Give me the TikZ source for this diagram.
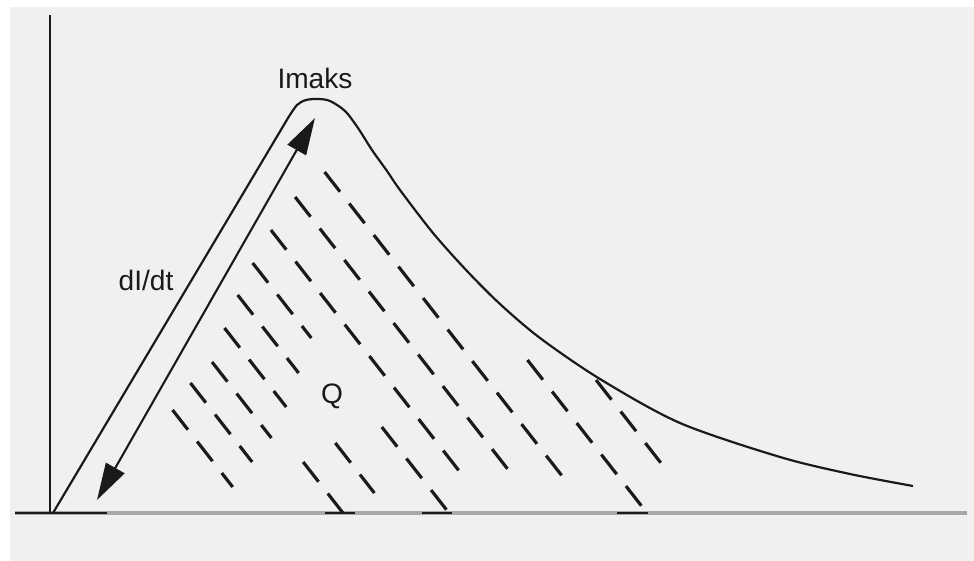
\documentclass[tikz,border=0pt]{standalone}
\usepackage{fontspec}
\setmainfont{Liberation Sans}
\usepackage{tikz}
\usetikzlibrary{arrows.meta}
\definecolor{ink}{HTML}{1A1A1A}
\definecolor{paper}{HTML}{F0F0F0}
\definecolor{axisgrey}{HTML}{A8A8A8}

\begin{document}
\begin{tikzpicture}[x=0.02cm,y=-0.02cm,
    pulse/.style={draw=ink,line width=1.25pt},
    hatch/.style={draw=ink,line width=1.8pt,dash pattern=on 0.5cm off 0.3cm},
    lbl/.style={text=ink,font=\fontsize{16}{18}\selectfont,inner sep=0pt}]
  \useasboundingbox (0,0) rectangle (974,561);
  \fill[paper] (10,7) rectangle (974,561);
  % axes
  \draw[axisgrey,line width=2.2pt] (15,513) -- (967,513);
  \foreach \xs/\xe in {15/107,325/355,422/452,617/648}
    \draw[ink,line width=1.6pt] (\xs,513) -- (\xe,513);
  \draw[ink,line width=1.2pt] (50,15) -- (50,513);
  % current pulse
  \draw[pulse] (53,513) -- plot[smooth] coordinates {(288,118) (297,105) (306,100)
    (318,99) (330,101) (345,111) (358,128) (372,150) (387,171) (400,190) (433,233)
    (467,271) (500,304) (540,338) (600,379) (680,423) (780,457) (850,474) (913,486)};
  % charge hatching: x at base / top y / bottom y
  \foreach \xa/\ya/\yb in {253/410/487,292/383/462,330/362/438,369/328/407,
      408/295/373,448/263/338,449/427/513,492/230/478,542/197/477,591/172/483,
      647/360/513,700/380/463,343/462/513,390/443/493}
    \draw[hatch] ({\xa-(513-\ya)/1.28},\ya) -- ({\xa-(513-\yb)/1.28},\yb);
  \coordinate (risebot) at (97,500);
  \coordinate (risetop) at (315,118);
  \draw[ink,line width=1.2pt,<->,>={Triangle[length=21pt,width=12pt]}] (risebot) -- (risetop);
  \node[lbl] (imaks) at (315,78) {Imaks};
  \node[lbl] (didt) at (146,280) {dI/dt};
  \node[lbl] (q) at (332,396) {Q};
\end{tikzpicture}
\end{document}
